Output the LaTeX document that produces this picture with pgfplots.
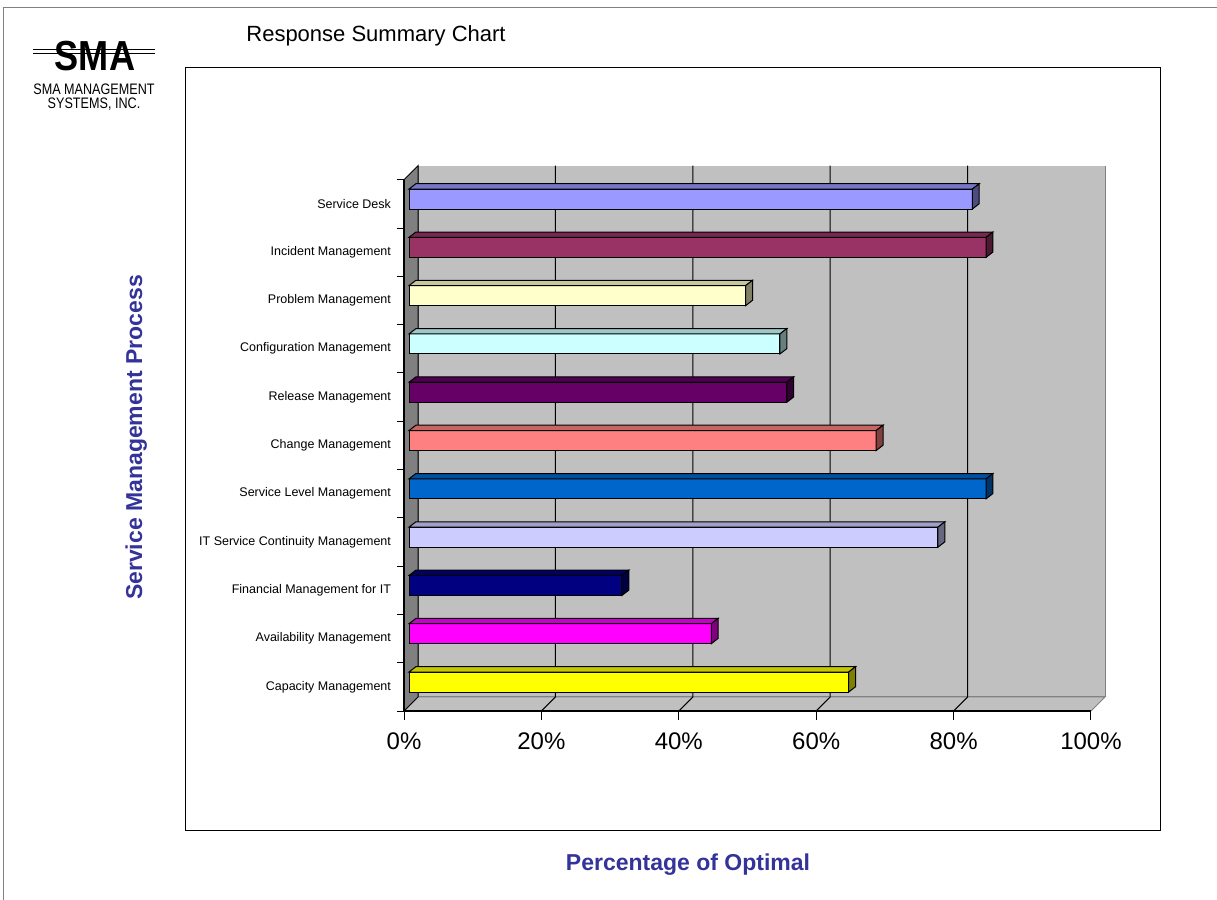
\documentclass[border=0pt]{standalone}
\usepackage{pgfplots}
\pgfplotsset{compat=1.18}
\usepackage{fontspec}
\setmainfont{Liberation Sans}

\definecolor{sdesk}{HTML}{9999FF}
\definecolor{incident}{HTML}{993366}
\definecolor{problem}{HTML}{FFFFCC}
\definecolor{config}{HTML}{CCFFFF}
\definecolor{release}{HTML}{660066}
\definecolor{change}{HTML}{FF8080}
\definecolor{slm}{HTML}{0066CC}
\definecolor{itscm}{HTML}{CCCCFF}
\definecolor{finance}{HTML}{000080}
\definecolor{avail}{HTML}{FF00FF}
\definecolor{capacity}{HTML}{FFFF00}
\definecolor{wallgray}{HTML}{C0C0C0}
\definecolor{darkwall}{HTML}{808080}
\definecolor{labelblue}{HTML}{333399}

% 3D bar: #1 = category index, #2 = value (percent), #3 = colour
\newcommand\tdbar[3]{%
  \pgfmathsetmacro\xa{0.73}%
  \pgfmathsetmacro\xb{0.73+#2}%
  \pgfmathsetmacro\xc{0.73+#2+1.0}%
  \pgfmathsetmacro\xd{0.73+1.0}%
  \pgfmathsetmacro\ya{#1+0.1-0.207}%
  \pgfmathsetmacro\yb{#1+0.1+0.207}%
  \pgfmathsetmacro\yc{#1+0.1+0.207+0.11}%
  \pgfmathsetmacro\yd{#1+0.1-0.207+0.11}%
  \edef\tdtemp{%
    \noexpand\addplot[draw=black, line width=0.5pt, fill=#3] coordinates {(\xa,\ya) (\xb,\ya) (\xb,\yb) (\xa,\yb)} -- cycle;
    \noexpand\addplot[draw=black, line width=0.5pt, fill=#3!78!black] coordinates {(\xa,\yb) (\xb,\yb) (\xc,\yc) (\xd,\yc)} -- cycle;
    \noexpand\addplot[draw=black, line width=0.5pt, fill=#3!50!black] coordinates {(\xb,\ya) (\xc,\yd) (\xc,\yc) (\xb,\yb)} -- cycle;
  }\tdtemp
}

\begin{document}
\begin{tikzpicture}
\begin{scope}[x=0.5pt,y=-0.5pt]
  \useasboundingbox (0,0) rectangle (1217,900);
  \fill[white] (0,0) rectangle (1217,900);
  \draw[darkwall, line width=0.8pt] (3.5,900) -- (3.5,7.5) -- (1217,7.5);
  \draw[black, line width=0.5pt] (185,67) rectangle (1160,830);
  \node[anchor=base west, inner sep=0pt, font=\fontsize{11}{13}\selectfont] at (246,41) {Response Summary Chart};
  % logo
  \draw[black, line width=0.7pt] (33,49.5) -- (155,49.5);
  \draw[black, line width=0.7pt] (33,53.5) -- (155,53.5);
  \node[anchor=base, inner sep=0pt, xscale=0.86, font=\bfseries\fontsize{21}{21}\selectfont] at (95,70) {SMA};
  \node[anchor=base, inner sep=0pt, xscale=0.83, font=\fontsize{7.6}{8}\selectfont] at (94,94) {SMA MANAGEMENT};
  \node[anchor=base, inner sep=0pt, xscale=0.83, font=\fontsize{7.6}{8}\selectfont] at (94,108.5) {SYSTEMS, INC.};
  % axis titles
  \node[anchor=base, inner sep=0pt, rotate=90, text=labelblue, font=\bfseries\fontsize{11.5}{13}\selectfont] at (142,437.5) {Service Management Process};
  \node[anchor=base, inner sep=0pt, text=labelblue, font=\bfseries\fontsize{11.5}{13}\selectfont] at (688,870) {Percentage of Optimal};
\end{scope}

\begin{axis}[
  at={(202pt,-355.5pt)}, anchor=south west,
  scale only axis, width=350.5pt, height=272.65pt,
  xmin=0, xmax=102.04, ymin=-0.5, ymax=10.79,
  axis line style={draw=none},
  clip=false,
  tick pos=left, tick align=outside,
  major tick length=4.5pt,
  xtick={0,20,40,60,80,100},
  xticklabels={0\%,20\%,40\%,60\%,80\%,100\%},
  x tick label style={font=\fontsize{12}{14}\selectfont, yshift=-3pt},
  xtick style={draw=black, line width=0.5pt},
  ytick={0,...,10},
  yticklabels={Capacity Management, Availability Management, Financial Management for IT, IT Service Continuity Management, Service Level Management, Change Management, Release Management, Configuration Management, Problem Management, Incident Management, Service Desk},
  y tick label style={font=\fontsize{6.25}{7}\selectfont, xshift=1.5pt},
  ytick style={draw=none},
]
% back wall
\addplot[fill=wallgray, draw=none] coordinates {(2.04,-0.21) (102.04,-0.21) (102.04,10.79) (2.04,10.79)} -- cycle;
\addplot[darkwall, line width=0.5pt] coordinates {(2.04,10.79) (2.04,-0.21) (102.04,-0.21) (102.04,10.79)};
% floor
\addplot[fill=wallgray, draw=darkwall, line width=0.5pt] coordinates {(0,-0.5) (100,-0.5) (102.04,-0.21) (2.04,-0.21)} -- cycle;
% left wall
\addplot[fill=darkwall, draw=black, line width=0.5pt] coordinates {(0,-0.5) (2.04,-0.21) (2.04,10.79) (0,10.5)} -- cycle;
% gridlines
\addplot[black, line width=0.5pt] coordinates {(20,-0.5) (22.04,-0.21) (22.04,10.79)};
\addplot[black, line width=0.5pt] coordinates {(40,-0.5) (42.04,-0.21) (42.04,10.79)};
\addplot[black, line width=0.5pt] coordinates {(60,-0.5) (62.04,-0.21) (62.04,10.79)};
\addplot[black, line width=0.5pt] coordinates {(80,-0.5) (82.04,-0.21) (82.04,10.79)};
% front axis lines
\addplot[black, line width=0.6pt] coordinates {(0,10.5) (0,-0.5) (100,-0.5)};
% category boundary ticks
\addplot[xcomb, black, line width=0.5pt] coordinates {(-1.02,-0.5) (-1.02,0.5) (-1.02,1.5) (-1.02,2.5) (-1.02,3.5) (-1.02,4.5) (-1.02,5.5) (-1.02,6.5) (-1.02,7.5) (-1.02,8.5) (-1.02,9.5) (-1.02,10.5)};
% bars
\tdbar{10}{82}{sdesk}
\tdbar{9}{84}{incident}
\tdbar{8}{49}{problem}
\tdbar{7}{54}{config}
\tdbar{6}{55}{release}
\tdbar{5}{68}{change}
\tdbar{4}{84}{slm}
\tdbar{3}{77}{itscm}
\tdbar{2}{31}{finance}
\tdbar{1}{44}{avail}
\tdbar{0}{64}{capacity}
\end{axis}
\end{tikzpicture}
\end{document}
